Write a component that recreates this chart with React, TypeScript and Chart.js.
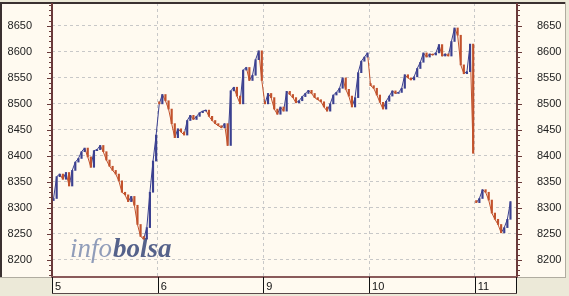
import React, { useEffect, useRef } from "react";
import { Chart, registerables } from "chart.js";

Chart.register(...registerables);

// ---- data ----
const dayLabels = ["5", "6", "9", "10", "11"];
const yTickValues = [8200, 8250, 8300, 8350, 8400, 8450, 8500, 8550, 8600, 8650];
const SLOTS_PER_DAY = 34; // quarter-hour sessions per trading day

const day5 = [
  8318, 8360, 8365, 8355, 8368, 8342, 8372, 8388, 8395, 8408, 8415, 8398, 8378, 8410, 8412, 8420, 8408,
  8392, 8380, 8372, 8365, 8352, 8330, 8325, 8312, 8322, 8305, 8268, 8245, 8240, 8262, 8330, 8390, 8440,
];
const day6 = [
  8500, 8518, 8506, 8490, 8462, 8435, 8452, 8446, 8440, 8468, 8478, 8470, 8476, 8483, 8486, 8488, 8476,
  8468, 8462, 8458, 8454, 8462, 8420, 8525, 8532, 8515, 8500, 8565, 8570, 8545, 8555, 8585, 8602, 8545,
];
const day9 = [
  8500, 8520, 8512, 8490, 8480, 8494, 8486, 8524, 8518, 8512, 8502, 8506, 8514, 8520, 8526, 8520, 8512,
  8508, 8504, 8494, 8486, 8500, 8517, 8522, 8530, 8550, 8528, 8515, 8494, 8512, 8560, 8582, 8590, 8598,
];
const day10 = [
  8535, 8530, 8517, 8503, 8490, 8505, 8515, 8525, 8520, 8522, 8530, 8556, 8550, 8546, 8552, 8568, 8580,
  8598, 8590, 8596, 8594, 8598, 8614, 8592, 8596, 8592, 8620, 8646, 8632, 8575, 8558, 8562, 8615, 8405,
];
const day11 = [8310, 8318, 8335, 8330, 8315, 8290, 8278, 8268, 8252, 8262, 8278, 8312];

const days = [day5, day6, day9, day10, day11];

// ---- style ----
const CREAM = "#FFFAF0";
const PANEL_GREY = "#ECE9D8";
const UP = "#3B4090";
const DOWN = "#C2522C";
const AXIS = "#6A3A3A";
const FONT = "'Liberation Sans', Arial, sans-serif";

type Pt = { x: number; y: number };
const closes: Pt[] = [];
const dayOf: number[] = [];
days.forEach((vals, d) =>
  vals.forEach((v, i) => {
    closes.push({ x: d + (i + 0.5) / SLOTS_PER_DAY, y: v });
    dayOf.push(d);
  })
);
const bars = closes.map((p, i) => {
  const prev = i > 0 && dayOf[i - 1] === dayOf[i] ? closes[i - 1].y : p.y + (i > 0 ? 4 : -4);
  return { x: p.x, y: [prev, p.y] as [number, number] };
});
const barColors = bars.map((b) => (b.y[1] >= b.y[0] ? UP : DOWN));

const framePlugin = {
  id: "frame",
  beforeDraw(chart: any) {
    const { ctx, chartArea: a, width, height } = chart;
    ctx.save();
    ctx.fillStyle = PANEL_GREY;
    ctx.fillRect(0, 0, width, height);
    ctx.fillStyle = CREAM;
    ctx.fillRect(0, 2, width - 3, a.bottom - 2);
    ctx.fillRect(a.left, a.bottom, a.right - a.left, 16);
    ctx.restore();
  },
  beforeDatasetsDraw(chart: any) {
    const { ctx, chartArea: a } = chart;
    ctx.save();
    ctx.textBaseline = "alphabetic";
    const x0 = a.left + 18;
    const yb = a.bottom - 20;
    ctx.font = "italic 27px 'Liberation Serif', serif";
    ctx.fillStyle = "rgba(125,140,175,0.85)";
    ctx.fillText("info", x0, yb);
    const w = ctx.measureText("info").width;
    ctx.font = "italic bold 27px 'Liberation Serif', serif";
    ctx.fillStyle = "rgba(55,70,120,0.85)";
    ctx.fillText("bolsa", x0 + w + 1, yb);
    ctx.restore();
  },
  afterDraw(chart: any) {
    const { ctx, chartArea: a, width, scales } = chart;
    const ys = scales.y;
    const xs = scales.x;
    ctx.save();
    // outer panel border
    ctx.strokeStyle = "#3a3030";
    ctx.lineWidth = 2;
    ctx.beginPath();
    ctx.moveTo(0, 3);
    ctx.lineTo(width - 3, 3);
    ctx.stroke();
    ctx.beginPath();
    ctx.moveTo(1, 2);
    ctx.lineTo(1, a.bottom + 1);
    ctx.stroke();
    ctx.lineWidth = 1;
    ctx.strokeStyle = "#b0aca0";
    ctx.beginPath();
    ctx.moveTo(width - 3.5, 2);
    ctx.lineTo(width - 3.5, a.bottom + 1);
    ctx.moveTo(0, a.bottom + 0.5);
    ctx.lineTo(width - 3, a.bottom + 0.5);
    ctx.stroke();
    // axis lines
    ctx.strokeStyle = AXIS;
    ctx.lineWidth = 2;
    ctx.beginPath();
    ctx.moveTo(a.left, 3);
    ctx.lineTo(a.left, a.bottom);
    ctx.moveTo(a.right, 3);
    ctx.lineTo(a.right, a.bottom);
    ctx.stroke();
    ctx.strokeStyle = "#8A5A5A";
    ctx.beginPath();
    ctx.moveTo(a.left - 1, a.bottom);
    ctx.lineTo(a.right + 1, a.bottom);
    ctx.stroke();
    // minor / major ticks
    ctx.strokeStyle = AXIS;
    ctx.lineWidth = 1;
    ctx.beginPath();
    for (let v = 8160; v <= 8700; v += 10) {
      const py = Math.round(ys.getPixelForValue(v)) + 0.5;
      if (py < a.top + 2 || py > a.bottom - 1) continue;
      const len = v % 50 === 0 ? 5 : 3;
      ctx.moveTo(a.left - len, py);
      ctx.lineTo(a.left + 1, py);
      ctx.moveTo(a.right - 1, py);
      ctx.lineTo(a.right + len, py);
    }
    ctx.stroke();
    // bottom strip
    ctx.strokeStyle = "#111";
    ctx.beginPath();
    for (let d = 0; d < dayLabels.length; d++) {
      const px = Math.round(xs.getPixelForValue(d)) + 0.5;
      ctx.moveTo(px, a.bottom);
      ctx.lineTo(px, a.bottom + 16);
    }
    ctx.moveTo(Math.round(a.right) - 0.5, a.bottom);
    ctx.lineTo(Math.round(a.right) - 0.5, a.bottom + 16);
    ctx.stroke();
    ctx.strokeStyle = "#5a4a4a";
    ctx.beginPath();
    ctx.moveTo(a.left, a.bottom + 16.5);
    ctx.lineTo(a.right, a.bottom + 16.5);
    ctx.stroke();
    ctx.restore();
  },
};

const yTicksFixed = (scale: any) => {
  scale.ticks = yTickValues.map((v) => ({ value: v }));
};
const fitY = (s: any) => {
  s.width = 52;
  s.paddingTop = 0;
  s.paddingBottom = 0;
};

export default function App() {
  const ref = useRef<HTMLCanvasElement | null>(null);
  useEffect(() => {
    if (!ref.current) return;
    const chart = new Chart(ref.current, {
      type: "bar",
      data: {
        datasets: [
          {
            type: "line",
            data: closes,
            borderWidth: 1,
            pointRadius: 0,
            tension: 0,
            borderColor: DOWN,
            segment: {
              borderColor: (c: any) =>
                dayOf[c.p0DataIndex] !== dayOf[c.p1DataIndex] && dayOf[c.p1DataIndex] === 4
                  ? "rgba(0,0,0,0)"
                  : c.p1.parsed.y >= c.p0.parsed.y
                  ? UP
                  : DOWN,
            },
            order: 2,
          } as any,
          {
            type: "bar",
            data: bars as any,
            backgroundColor: barColors,
            barThickness: 1.5,
            borderWidth: 0,
            order: 1,
          } as any,
        ],
      },
      options: {
        animation: false,
        responsive: false,
        devicePixelRatio: 1,
        layout: { padding: { top: 3, left: 0, right: 0, bottom: 0 } },
        plugins: { legend: { display: false }, tooltip: { enabled: false } },
        scales: {
          x: {
            type: "linear",
            min: 0,
            max: 4.4,
            offset: false,
            afterBuildTicks: (s: any) => {
              s.ticks = dayLabels.map((_, i) => ({ value: i }));
            },
            afterFit: (s: any) => {
              s.height = 19;
              s.paddingLeft = 0;
              s.paddingRight = 0;
            },
            grid: { color: "#C8C8C8", drawTicks: false, offset: false, lineWidth: 1 },
            border: { display: false, dash: [3, 3] },
            ticks: {
              align: "start",
              labelOffset: 3,
              padding: 3,
              maxRotation: 0,
              autoSkip: false,
              color: "#111",
              font: { family: FONT, size: 11 },
              callback: (v: any) => dayLabels[Math.round(Number(v))] ?? "",
            },
          },
          y: {
            type: "linear",
            position: "left",
            min: 8167,
            max: 8694,
            afterBuildTicks: yTicksFixed,
            afterFit: fitY,
            grid: { color: "#C8C8C8", drawTicks: false, lineWidth: 1 },
            border: { display: false, dash: [3, 3] },
            ticks: {
              padding: 20,
              color: "#222",
              font: { family: FONT, size: 11 },
              callback: (v: any) => String(v),
            },
          },
          y2: {
            type: "linear",
            position: "right",
            min: 8167,
            max: 8694,
            afterBuildTicks: yTicksFixed,
            afterFit: fitY,
            grid: { drawOnChartArea: false, drawTicks: false },
            border: { display: false },
            ticks: {
              padding: 20,
              color: "#222",
              font: { family: FONT, size: 11 },
              callback: (v: any) => String(v),
            },
          },
        },
      } as any,
      plugins: [framePlugin],
    });
    return () => chart.destroy();
  }, []);
  return (
    <div style={{ position: "absolute", left: 0, top: 0, width: 569, height: 296 }}>
      <canvas ref={ref} width={569} height={296} style={{ display: "block" }} />
    </div>
  );
}
